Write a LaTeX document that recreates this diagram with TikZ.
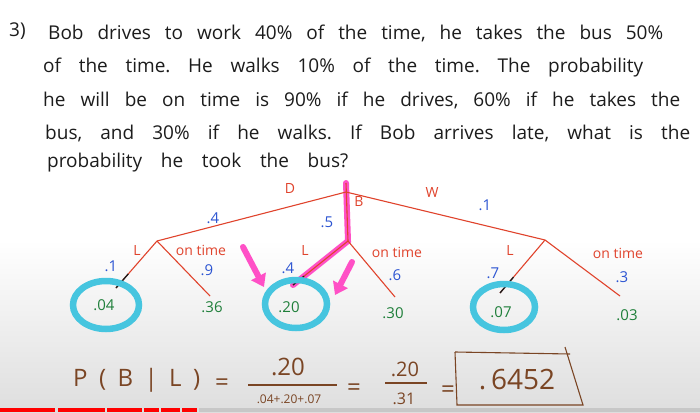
\documentclass[tikz,border=0pt]{standalone}
\usepackage{fontspec}
\setmainfont{Open Sans}
\usetikzlibrary{calc,arrows.meta}
\definecolor{penink}{HTML}{1C1C1C}
\definecolor{penred}{HTML}{E0432C}
\definecolor{penblue}{HTML}{2D55D2}
\definecolor{pengreen}{HTML}{1F7F3A}
\definecolor{penbrown}{HTML}{7A4524}
\definecolor{markcyan}{HTML}{46C5DF}
\definecolor{markpink}{HTML}{FF50C6}
\frenchspacing
\begin{document}
\begin{tikzpicture}[
    x=1pt, y=-1pt,
    txt/.style={anchor=west, inner sep=0pt, text=penink, font=\fontsize{19}{22}\selectfont},
    branch/.style={draw=penred, line width=1.1pt},
    tipline/.style={draw=penink, line width=1.3pt},
    lbl/.style={inner sep=1pt, text=penred, font=\fontsize{14}{16}\selectfont},
    prob/.style={inner sep=1pt, text=penblue, font=\fontsize{15}{17}\selectfont},
    leaf/.style={inner sep=1pt, text=pengreen, font=\fontsize{15}{17}\selectfont},
    ring/.style={draw=markcyan, line width=6.5pt},
    hilite/.style={draw=markpink, line width=6pt, line cap=round},
    eqn/.style={inner sep=0pt, text=penbrown, font=\fontsize{24}{28}\selectfont},
    small/.style={inner sep=0pt, text=penbrown, font=\fontsize{12}{14}\selectfont},
    rule/.style={draw=penbrown, line width=1.1pt},
  ]
  \useasboundingbox (0,0) rectangle (700,412);
  \fill[white] (0,0) rectangle (700,412);
  \shade[top color=white, bottom color=black!13] (0,240) rectangle (700,412);

  % question
  \node[txt] (num) at (9,31) {3)};
  \node[txt] (l1) at (48,33) {\makebox[615pt][s]{Bob drives to work 40\% of the time, he takes the bus 50\%}};
  \node[txt] (l2) at (43,68) {\makebox[600pt][s]{of the time. He walks 10\% of the time. The probability}};
  \node[txt] (l3) at (43,100) {\makebox[637pt][s]{he will be on time is 90\% if he drives, 60\% if he takes the}};
  \node[txt] (l4) at (45,133) {\makebox[645pt][s]{bus, and 30\% if he walks. If Bob arrives late, what is the}};
  \node[txt] (l5) at (47,163) {\makebox[301pt][s]{probability he took the bus?}};

  % tree points
  \coordinate (top) at (346,183);
  \coordinate (root) at (346,192);
  \coordinate (drive) at (157,241);
  \coordinate (bus) at (348,241);
  \coordinate (walk) at (545,240);
  \coordinate (dlate) at (116,288);
  \coordinate (dont) at (210,296);
  \coordinate (blate) at (293,285);
  \coordinate (bont) at (395,297);
  \coordinate (wlate) at (500,293);
  \coordinate (wont) at (620,296);

  % highlighter
  \draw[hilite] (top) -- (bus) -- (blate);
  \draw[hilite, -{Triangle[length=12pt, width=16pt]}] (243,247) -- (264,287);
  \draw[hilite, -{Triangle[length=12pt, width=16pt]}] (352,262) -- (335,295);

  % branches
  \draw[branch] (drive) -- (root) -- (walk);
  \draw[branch] (top) -- (bus);
  \draw[branch] (drive) -- (dlate);
  \draw[branch] (drive) -- (dont);
  \draw[branch] (bus) -- (blate);
  \draw[branch] (bus) -- (bont);
  \draw[branch] (walk) -- (wlate);
  \draw[branch] (walk) -- (wont);
  \draw[tipline] ($(drive)!0.7!(dlate)$) -- (dlate);
  \draw[tipline] ($(bus)!0.8!(blate)$) -- (blate);
  \draw[tipline] ($(walk)!0.7!(wlate)$) -- (wlate);

  % first split
  \node[lbl] (dlbl) at (290,188) {D};
  \node[lbl] (blbl) at (359,202) {B};
  \node[lbl] (wlbl) at (432,192) {W};
  \node[prob] (pd) at (213,218) {.4};
  \node[prob] (pb) at (327,222) {.5};
  \node[prob] (pw) at (485,205) {.1};

  % second split
  \node[lbl] (dl) at (137,250) {L};
  \node[lbl] (dt) at (201,250) {on time};
  \node[prob] (pdl) at (111,266) {.1};
  \node[prob] (pdt) at (207,270) {.9};
  \node[lbl] (bl) at (305,250) {L};
  \node[lbl] (bt) at (397,252) {on time};
  \node[prob] (pbl) at (288,268) {.4};
  \node[prob] (pbt) at (395,275) {.6};
  \node[lbl] (wl) at (510,250) {L};
  \node[lbl] (wt) at (618,253) {on time};
  \node[prob] (pwl) at (493,273) {.7};
  \node[prob] (pwt) at (622,277) {.3};

  % leaves
  \draw[ring] (106,305) ellipse [x radius=33, y radius=24];
  \draw[ring] (296,304) ellipse [x radius=31, y radius=24];
  \draw[ring] (504,307) ellipse [x radius=31, y radius=23];
  \node[leaf] (vdl) at (104,305) {.04};
  \node[leaf] (vdt) at (212,307) {.36};
  \node[leaf] (vbl) at (289,307) {.20};
  \node[leaf] (vbt) at (393,313) {.30};
  \node[leaf] (vwl) at (501,312) {.07};
  \node[leaf] (vwt) at (627,315) {.03};

  % player bar
  \foreach \a/\b in {0/55, 58/105, 107/142, 144/159, 161/180, 182/197}
    \fill[red] (\a,408) rectangle (\b,412);
  \fill[black!22] (199,408) rectangle (700,412);

  % Bayes
  \node[eqn, anchor=west] (pbgl) at (73,380) {\makebox[127pt][s]{P ( B | L )}};
  \node[eqn] (eq1) at (222,385) {=};
  \node[eqn] (n1) at (288,367) {.20};
  \node[small] (d1) at (289,399) {.04+.20+.07};
  \draw[rule] (248,385) -- (337,385);
  \node[eqn] (eq2) at (354,390) {=};
  \node[eqn, font=\fontsize{20}{24}\selectfont] (n2) at (405,369) {.20};
  \node[small, font=\fontsize{16}{18}\selectfont] (d2) at (404,399) {.31};
  \draw[rule] (385,383) -- (427,383);
  \node[eqn] (eq3) at (448,392) {=};
  \node[eqn, font=\fontsize{28}{32}\selectfont] (ans) at (517,380) {.\,6452};
  \draw[rule] (455,352) -- (570,354);
  \draw[rule] (565,347) -- (583,405) -- (457,405) -- (455,352);
\end{tikzpicture}
\end{document}
